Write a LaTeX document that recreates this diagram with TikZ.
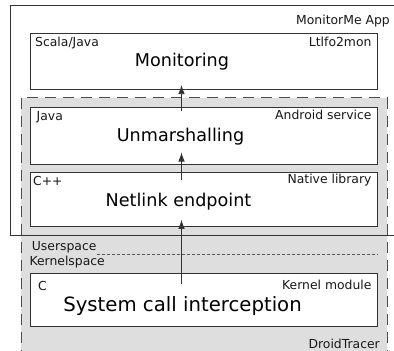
\documentclass[tikz,border=0pt]{standalone}
\usepackage{fontspec}
\setmainfont{DejaVu Sans}
\usetikzlibrary{calc,arrows.meta}
\begin{document}
\begin{tikzpicture}[x=1pt,y=-1pt,
  box/.style={draw=black!80,line width=0.8pt,fill=white,anchor=north west,minimum width=347pt,inner sep=0pt},
  title/.style={font=\fontsize{17.6}{20}\selectfont,anchor=base,inner sep=0pt},
  lbl/.style={font=\fontsize{12.4}{14}\selectfont,inner sep=0pt,text=black!90},
  arr/.style={draw=black!80,line width=0.8pt,-{Latex[length=9pt,width=6.5pt]}}]
\useasboundingbox (0,0) rectangle (394,351);
\clip (0,0) rectangle (394,351);
\fill[white] (0,0) rectangle (394,351);
% DroidTracer region
\filldraw[fill=black!13,draw=black!70,line width=0.8pt,dash pattern=on 11pt off 7pt]
  (21,97.5) rectangle (387,370);
% MonitorMe App outer box
\draw[black!80,line width=0.8pt] (10,5.5) rectangle (430,235.5);
% boxes
\node[box,minimum height=56pt] (mon) at (30,33.3) {};
\node[box,minimum height=57pt] (unm) at (30,106.7) {};
\node[box,minimum height=54pt] (net) at (30,172) {};
\node[box,minimum height=53pt] (ker) at (30,273.3) {};
% titles
\node[title] (monT) at (182,66.7) {Monitoring};
\node[title] (unmT) at (180.5,141.7) {Unmarshalling};
\node[title] (netT) at (178.5,206.7) {Netlink endpoint};
\node[title,font=\fontsize{19.7}{22}\selectfont] (kerT) at (182.5,311.7) {System call interception};
% labels
\node[lbl,anchor=base east] (app) at (390,24.3) {MonitorMe App};
\node[lbl,anchor=base west] (monL) at (35,46) {Scala/Java};
\node[lbl,anchor=base east] (monR) at (371.7,46.5) {Ltlfo2mon};
\node[lbl,anchor=base west] (unmL) at (36.5,120) {Java};
\node[lbl,anchor=base east] (unmR) at (371.7,119) {Android service};
\node[lbl,anchor=base west] (netL) at (33,185) {C++};
\node[lbl,anchor=base east] (netR) at (371.7,183.5) {Native library};
\node[lbl,anchor=base west] (kerL) at (38,290.5) {C};
\node[lbl,anchor=base east] (kerR) at (371.7,289) {Kernel module};
\node[lbl,anchor=base west] (us) at (31.7,250) {Userspace};
\node[lbl,anchor=base west] (ks) at (29.3,265.5) {Kernelspace};
\node[lbl,anchor=base east] (dt) at (380,348.5) {DroidTracer};
% user/kernel boundary
\coordinate (bnd) at (377,254.5);
\draw[black!65,line width=0.8pt,dash pattern=on 3pt off 2pt] (us.east |- bnd) -- (bnd);
% arrows
\draw[arr] ($(unm.north -| 181.5,0)+(0,4)$) -- ($(mon.south -| 181.5,0)+(0,-5)$);
\draw[arr] ($(net.north -| 181.5,0)+(0,8)$) -- ($(unm.south -| 181.5,0)+(0,-12)$);
\draw[arr] ($(ker.north -| 181.5,0)+(0,11)$) -- ($(net.south -| 181.5,0)+(0,-7)$);
\end{tikzpicture}
\end{document}
